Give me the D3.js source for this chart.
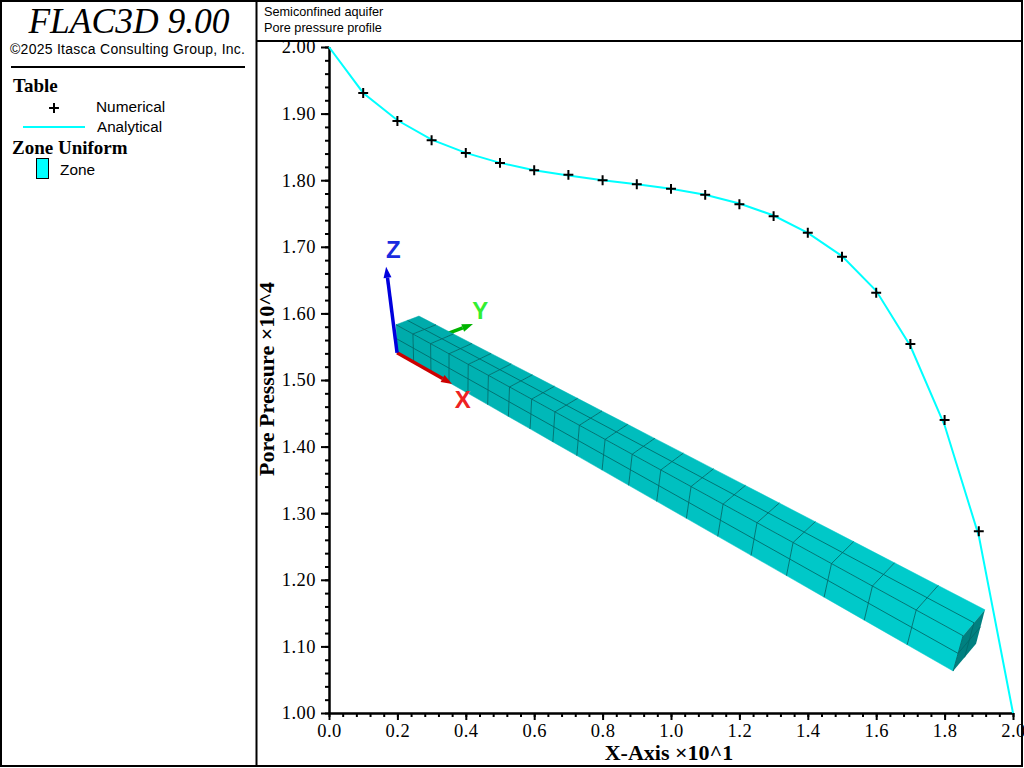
<!DOCTYPE html>
<html>
<head>
<meta charset="utf-8">
<script src="https://cdn.jsdelivr.net/npm/d3@7"></script>
<style>
  html, body { margin: 0; padding: 0; background: #fff; }
  svg { display: block; }
  .serif { font-family: "Liberation Serif", serif; }
  .sans { font-family: "Liberation Sans", sans-serif; }
  .axis text { font-family: "Liberation Serif", serif; font-size: 18.5px; letter-spacing: 0.5px; fill: #000; }
  .axis line, .axis path { stroke: #000; stroke-width: 2; }
</style>
</head>
<body>
<div id="chart"></div>
<script>
// Values
const numX = [0.1, 0.2, 0.3, 0.4, 0.5, 0.6, 0.7, 0.8, 0.9, 1.0, 1.1, 1.2, 1.3, 1.4, 1.5, 1.6, 1.7, 1.8, 1.9]
const numerical = [1.931, 1.889, 1.860, 1.841, 1.826, 1.815, 1.808, 1.800, 1.794, 1.787, 1.778, 1.764, 1.746, 1.721, 1.685, 1.631, 1.554, 1.440, 1.273]
const anaX = [0.0, 0.1, 0.2, 0.3, 0.4, 0.5, 0.6, 0.7, 0.8, 0.9, 1.0, 1.1, 1.2, 1.3, 1.4, 1.5, 1.6, 1.7, 1.8, 1.9, 2.0]
const analytical = [2.000, 1.931, 1.890, 1.861, 1.841, 1.826, 1.815, 1.807, 1.800, 1.794, 1.787, 1.778, 1.765, 1.747, 1.721, 1.686, 1.634, 1.551, 1.432, 1.266, 1.000]

const xMajor = [0.0, 0.2, 0.4, 0.6, 0.8, 1.0, 1.2, 1.4, 1.6, 1.8, 2.0]
const yMajor = [1.0, 1.1, 1.2, 1.3, 1.4, 1.5, 1.6, 1.7, 1.8, 1.9, 2.0]
const xMinor = d3.range(0, 51).map(i => i * 0.04)
const yMinor = d3.range(0, 51).map(i => 1 + i * 0.02)

// Zone block corners in axis units: [front top, back top, front bottom, back bottom]
const farCorners = [[0.196, 1.583], [0.263, 1.596], [0.199, 1.541], [0.266, 1.553]]
const nearCorners = [[1.854, 1.116], [1.918, 1.155], [1.825, 1.063], [1.892, 1.104]]
const zoneCount = 20
const depthRatio = 0.584

// Axis triad in axis units
const triadOrigin = [0.199, 1.541]
const triadNames = ['Y', 'X', 'Z']
const triadTips = [[0.421, 1.584], [0.360, 1.494], [0.167, 1.670]]
const triadLabelAt = [[0.442, 1.605], [0.391, 1.470], [0.188, 1.696]]
const triadColors = ['#00b400', '#cc0000', '#0000dd']
const triadLabelColors = ['#33ee33', '#ee2222', '#1a2be0']

const canvasWidth = 1024
const canvasHeight = 768

const xScale = d3.scaleLinear().domain([0, 2]).range([329, 1013])
const yScale = d3.scaleLinear().domain([1, 2]).range([713, 47])

const svg = d3.select('#chart')
    .append('svg')
    .attr('width', canvasWidth)
    .attr('height', canvasHeight)

// Axes
const axisGroup = svg.append('g')

axisGroup.append('g')
    .attr('class', 'axis')
    .attr('transform', 'translate(329, 0)')
    .call(d3.axisLeft(yScale).tickValues(yMinor).tickSize(4).tickSizeOuter(0).tickFormat(''))

axisGroup.append('g')
    .attr('class', 'axis')
    .attr('transform', 'translate(0, 713)')
    .call(d3.axisBottom(xScale).tickValues(xMinor).tickSize(4).tickSizeOuter(0).tickFormat(''))

axisGroup.append('g')
    .attr('class', 'axis')
    .attr('transform', 'translate(329, 0)')
    .call(d3.axisLeft(yScale).tickValues(yMajor).tickSize(8).tickSizeOuter(0).tickPadding(5).tickFormat(d3.format('.2f')))

axisGroup.append('g')
    .attr('class', 'axis')
    .attr('transform', 'translate(0, 713)')
    .call(d3.axisBottom(xScale).tickValues(xMajor).tickSize(7).tickSizeOuter(0).tickPadding(4).tickFormat(d3.format('.1f')))

axisGroup.append('text')
    .attr('class', 'serif')
    .attr('x', 669)
    .attr('y', 760)
    .attr('text-anchor', 'middle')
    .attr('font-size', 22)
    .attr('font-weight', 'bold')
    .text('X-Axis ×10^1')

axisGroup.append('text')
    .attr('class', 'serif')
    .attr('transform', 'translate(274, 379) rotate(-90)')
    .attr('text-anchor', 'middle')
    .attr('font-size', 22)
    .attr('font-weight', 'bold')
    .text('Pore Pressure ×10^4')

// Zone block: corners blended between the two ends with perspective
function meshPoint(t, v, w) {
    const s = t / zoneCount
    const f = s * depthRatio / (1 - s + s * depthRatio)
    const end = corners => {
        const top = [0, 1].map(k => corners[0][k] + (corners[1][k] - corners[0][k]) * v)
        const bottom = [0, 1].map(k => corners[2][k] + (corners[3][k] - corners[2][k]) * v)
        return [0, 1].map(k => bottom[k] + (top[k] - bottom[k]) * w)
    }
    const a = end(farCorners)
    const b = end(nearCorners)
    return [xScale(a[0] + (b[0] - a[0]) * f), yScale(a[1] + (b[1] - a[1]) * f)]
}

const poly = d3.line()
const zoneColor = d3.scaleLinear().domain([0, zoneCount - 1]).range(['#00abab', '#00cdcd'])
const zones = d3.range(zoneCount)

function drawArrow(i) {
    const x1 = xScale(triadOrigin[0])
    const y1 = yScale(triadOrigin[1])
    const x2 = xScale(triadTips[i][0])
    const y2 = yScale(triadTips[i][1])
    const len = Math.hypot(x2 - x1, y2 - y1)
    const ux = (x2 - x1) / len
    const uy = (y2 - y1) / len
    const bx = x2 - ux * 11
    const by = y2 - uy * 11
    const g = svg.append('g')
    g.append('line')
        .attr('x1', x1).attr('y1', y1).attr('x2', bx).attr('y2', by)
        .attr('stroke', triadColors[i])
        .attr('stroke-width', 3.5)
    g.append('path')
        .attr('d', poly([[x2, y2], [bx - uy * 4, by + ux * 4], [bx + uy * 4, by - ux * 4]]) + 'Z')
        .attr('fill', triadColors[i])
}

// Y arrow sits behind the block
drawArrow(0)

const meshGroup = svg.append('g')

// Top face and front face fills
zones.forEach(z => {
    meshGroup.append('path')
        .attr('d', poly([meshPoint(z, 0, 1), meshPoint(z, 1, 1), meshPoint(z + 1, 1, 1), meshPoint(z + 1, 0, 1)]) + 'Z')
        .attr('fill', zoneColor(z))
        .attr('stroke', zoneColor(z))
        .attr('stroke-width', 0.5)
    meshGroup.append('path')
        .attr('d', poly([meshPoint(z, 0, 1), meshPoint(z, 0, 0), meshPoint(z + 1, 0, 0), meshPoint(z + 1, 0, 1)]) + 'Z')
        .attr('fill', zoneColor(z))
        .attr('stroke', zoneColor(z))
        .attr('stroke-width', 0.5)
})

// End face
meshGroup.append('path')
    .attr('d', poly([meshPoint(zoneCount, 0, 1), meshPoint(zoneCount, 1, 1), meshPoint(zoneCount, 1, 0), meshPoint(zoneCount, 0, 0)]) + 'Z')
    .attr('fill', '#008080')

// Grid lines, without the outer silhouette
const meshLines = []
d3.range(1, zoneCount).forEach(t => {
    meshLines.push([meshPoint(t, 1, 1), meshPoint(t, 0, 1), meshPoint(t, 0, 0)])
})
meshLines.push([meshPoint(0, 0.5, 1), meshPoint(zoneCount, 0.5, 1)])
meshLines.push([meshPoint(0, 0, 1), meshPoint(zoneCount, 0, 1)])
meshLines.push([meshPoint(0, 0, 0.5), meshPoint(zoneCount, 0, 0.5)])
meshLines.push([meshPoint(zoneCount, 0, 1), meshPoint(zoneCount, 0, 0)])
meshLines.push([meshPoint(zoneCount, 0.5, 1), meshPoint(zoneCount, 0.5, 0)])
meshLines.push([meshPoint(zoneCount, 0, 0.5), meshPoint(zoneCount, 1, 0.5)])

meshGroup.selectAll('.mesh-line')
    .data(meshLines)
    .enter()
    .append('path')
    .attr('class', 'mesh-line')
    .attr('d', d => poly(d))
    .attr('fill', 'none')
    .attr('stroke', '#006c6c')
    .attr('stroke-width', 0.9)

drawArrow(1)
drawArrow(2)

triadNames.forEach((name, i) => {
    svg.append('text')
        .attr('class', 'sans')
        .attr('x', xScale(triadLabelAt[i][0]))
        .attr('y', yScale(triadLabelAt[i][1]))
        .attr('text-anchor', 'middle')
        .attr('dominant-baseline', 'central')
        .attr('font-size', 24)
        .attr('font-weight', 'bold')
        .attr('fill', triadLabelColors[i])
        .text(name)
})

// Curves
svg.append('path')
    .attr('d', d3.line().x((d, i) => xScale(anaX[i])).y(d => yScale(d))(analytical))
    .attr('fill', 'none')
    .attr('stroke', '#00ffff')
    .attr('stroke-width', 2)

const plus = d3.symbol(d3.symbolPlus, 34)

svg.append('g')
    .selectAll('path')
    .data(numerical)
    .enter()
    .append('path')
    .attr('d', plus)
    .attr('transform', (d, i) => `translate(${xScale(numX[i])}, ${yScale(d)})`)
    .attr('fill', 'none')
    .attr('stroke', '#000')
    .attr('stroke-width', 2)

// Panels on top of everything, they cut off the tick labels that stick out
svg.append('rect')
    .attr('x', 258).attr('y', 0).attr('width', 766).attr('height', 40)
    .attr('fill', '#fff')
svg.append('rect')
    .attr('x', 0.5).attr('y', 0.5).attr('width', 255).attr('height', 767)
    .attr('fill', '#fff')

const frame = svg.append('g').attr('fill', 'none').attr('stroke', '#000').attr('stroke-width', 2)
frame.append('rect').attr('x', 1).attr('y', 1).attr('width', 1021).attr('height', 765)
frame.append('line').attr('x1', 256.5).attr('y1', 0).attr('x2', 256.5).attr('y2', 766)
frame.append('line').attr('x1', 256).attr('y1', 41).attr('x2', 1022).attr('y2', 41)

// Header text
svg.append('text').attr('class', 'sans').attr('x', 264).attr('y', 16).attr('font-size', 12.7).text('Semiconfined aquifer')
svg.append('text').attr('class', 'sans').attr('x', 264).attr('y', 32).attr('font-size', 12.7).text('Pore pressure profile')

// Side panel
svg.append('text')
    .attr('class', 'serif')
    .attr('x', 129)
    .attr('y', 33)
    .attr('text-anchor', 'middle')
    .attr('font-size', 35.5)
    .attr('font-style', 'italic')
    .text('FLAC3D 9.00')

svg.append('text')
    .attr('class', 'sans')
    .attr('x', 10)
    .attr('y', 54)
    .attr('font-size', 14)
    .attr('textLength', 235)
    .text('©2025 Itasca Consulting Group, Inc.')

svg.append('rect').attr('x', 11).attr('y', 66).attr('width', 234).attr('height', 2).attr('fill', '#000')

svg.append('text').attr('class', 'serif').attr('x', 13).attr('y', 92).attr('font-size', 19).attr('font-weight', 'bold').text('Table')
svg.append('path')
    .attr('d', plus)
    .attr('transform', 'translate(54, 108)')
    .attr('fill', 'none')
    .attr('stroke', '#000')
    .attr('stroke-width', 2)
svg.append('text').attr('class', 'sans').attr('x', 96).attr('y', 112).attr('font-size', 15.4).text('Numerical')
svg.append('line').attr('x1', 23).attr('y1', 127).attr('x2', 85).attr('y2', 127).attr('stroke', '#00ffff').attr('stroke-width', 2)
svg.append('text').attr('class', 'sans').attr('x', 97).attr('y', 132).attr('font-size', 15.2).text('Analytical')
svg.append('text').attr('class', 'serif').attr('x', 12).attr('y', 154).attr('font-size', 19).attr('font-weight', 'bold').text('Zone Uniform')
svg.append('rect').attr('x', 36.5).attr('y', 158.5).attr('width', 12).attr('height', 20).attr('fill', '#00ffff').attr('stroke', '#000')
svg.append('text').attr('class', 'sans').attr('x', 60).attr('y', 175).attr('font-size', 15.4).text('Zone')
</script>
</body>
</html>
